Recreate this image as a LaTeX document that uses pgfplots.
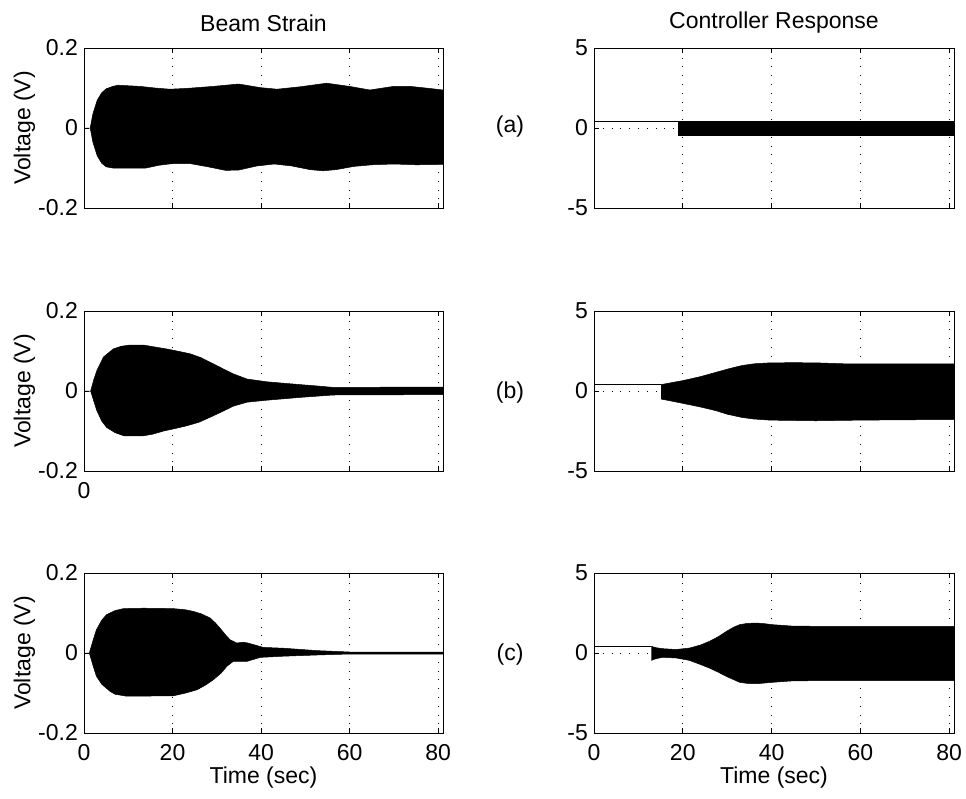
\documentclass[border=0pt]{standalone}
\usepackage{fontspec}
\setmainfont{Liberation Sans}
\usepackage{pgfplots}
\pgfplotsset{compat=1.18}
\newcommand{\bigf}{\fontsize{23}{27}\selectfont}
\pgfplotsset{
 base/.style={
  scale only axis, width=359pt, height=160pt,
  xmin=0, xmax=81.1,
  xtick={0,20,40,60,80},
  xticklabels={},
  grid=major,
  major grid style={black, line width=0.6pt, dash pattern=on 0.8pt off 8pt},
  axis line style={line width=0.9pt},
  every tick/.style={black, line width=0.8pt},
  major tick length=5pt,
  tick align=inside,
  tick label style={font=\bigf, inner sep=0pt},
  yticklabel style={xshift=-6pt},
  xticklabel style={yshift=-11pt},
  label style={font=\bigf},
  title style={font=\bigf, at={(axis description cs:0.5,1.1625)}, anchor=center, yshift=-7pt},
  xlabel style={at={(axis description cs:0.5,-0.281)}, anchor=center},
  ylabel style={at={(axis description cs:-0.166,0.5)}, anchor=center},
 },
 leftax/.style={base, ymin=-0.2, ymax=0.2, ytick={-0.2,0,0.2}, yticklabels={-0.2,0,0.2}, ylabel={Voltage (V)}},
 rightax/.style={base, width=360pt, ymin=-5, ymax=5, ytick={-5,0,5}, yticklabels={-5,0,5}},
 env/.style={fill=black, draw=black, line width=0.5pt},
 cst/.style={black, line width=0.7pt},
}
\begin{document}
\begin{tikzpicture}
\path[use as bounding box] (0,0) rectangle (966pt,-798pt);

% ---------- (a) beam strain
\begin{axis}[leftax, at={(84pt,-48pt)}, anchor=north west, title={Beam Strain}]
\addplot[env] coordinates {
(0,0) (1.4,0) (2,0.035) (3,0.07) (4,0.088) (5,0.098) (6.5,0.104) (7.7,0.107) (12.7,0.104) (16,0.1) (19.4,0.097) (23.2,0.099) (29.2,0.104) (34.9,0.11) (39.8,0.101) (43.6,0.097) (48.8,0.103) (54.8,0.112) (60,0.104) (64.6,0.095) (69.9,0.104) (73.7,0.104) (78,0.099) (81.1,0.095)
(81.1,-0.091) (75,-0.092) (70,-0.09) (65,-0.092) (61,-0.096) (57,-0.104) (54,-0.107) (51,-0.104) (47,-0.095) (43,-0.09) (39,-0.095) (35,-0.105) (32,-0.106) (28,-0.097) (24,-0.089) (20,-0.089) (17,-0.093) (14,-0.1) (6.5,-0.1) (5,-0.097) (4,-0.088) (3,-0.07) (2,-0.035) (1.4,0)
};
\end{axis}

% ---------- (a) controller
\begin{axis}[rightax, at={(594pt,-48pt)}, anchor=north west, title={Controller Response}]
\addplot[cst] coordinates {(0,0.42) (18.9,0.42)};
\addplot[env] coordinates {
(18.9,0.42) (81.1,0.42) (81.1,-0.44) (18.9,-0.44)
};
\end{axis}

% ---------- (b) beam strain
\begin{axis}[leftax, at={(84pt,-311pt)}, anchor=north west, xticklabels={0,{},{},{},{}}]
\addplot[env] coordinates {
(0,0) (1.5,0) (2.2,0.028) (2.9,0.051) (4.4,0.085) (6.6,0.105) (8.5,0.112) (10.4,0.115) (13.4,0.115) (16,0.11) (18.7,0.105) (21,0.1) (24,0.093) (26.5,0.083) (29.2,0.068) (31.5,0.055) (33.7,0.043) (36.8,0.030) (41.3,0.023) (48.8,0.016) (53.3,0.012) (56.3,0.009) (63.9,0.009) (71.4,0.010) (81.1,0.010)
(81.1,-0.009) (56.3,-0.010) (48.8,-0.016) (41.3,-0.023) (36.8,-0.028) (33.7,-0.038) (31.5,-0.05) (29.2,-0.062) (26,-0.078) (23.2,-0.087) (20.5,-0.094) (18,-0.1) (15.5,-0.108) (13.4,-0.112) (9,-0.112) (7,-0.104) (5.1,-0.091) (4,-0.075) (2.9,-0.049) (2.2,-0.025) (1.5,0)
};
\end{axis}

% ---------- (b) controller
\begin{axis}[rightax, at={(594pt,-311pt)}, anchor=north west]
\addplot[cst] coordinates {(0,0.40) (15.1,0.40)};
\addplot[env] coordinates {
(15.1,0.40) (20,0.65) (24,0.9) (27.5,1.17) (30.5,1.4) (33.3,1.59) (36,1.7) (39.6,1.76) (45,1.77) (50,1.76) (57.6,1.69) (81.1,1.69)
(81.1,-1.78) (60,-1.82) (50,-1.86) (39.6,-1.82) (36,-1.75) (33.3,-1.65) (30,-1.45) (27.5,-1.23) (24,-1.0) (20,-0.77) (15.1,-0.5)
};
\end{axis}

% ---------- (c) beam strain
\begin{axis}[leftax, at={(84pt,-573pt)}, anchor=north west, xticklabels={0,20,40,60,80}, xlabel={Time (sec)}]
\addplot[env] coordinates {
(0,0) (1.2,0) (2,0.03) (2.8,0.058) (4,0.082) (5.1,0.096) (7,0.106) (8.9,0.111) (13.4,0.112) (20.2,0.111) (23,0.108) (24.7,0.104) (26.5,0.098) (28.5,0.0875) (29.7,0.075) (30.7,0.0625) (32,0.045) (33,0.033) (34.5,0.025) (36,0.027) (37,0.025) (38.3,0.021) (40.5,0.014) (45,0.012) (52.6,0.006) (60,0.0025) (81.1,0.0025)
(81.1,-0.0025) (60,-0.0025) (52.6,-0.005) (45,-0.008) (39.8,-0.011) (38,-0.017) (36.8,-0.021) (33.7,-0.021) (32.3,-0.033) (31,-0.05) (29.2,-0.067) (27.5,-0.08) (25.5,-0.092) (23,-0.1) (20.2,-0.107) (9.6,-0.108) (7,-0.103) (5.9,-0.096) (4,-0.078) (2.8,-0.058) (2,-0.03) (1.2,0)
};
\end{axis}

% ---------- (c) controller
\begin{axis}[rightax, at={(594pt,-573pt)}, anchor=north west, xticklabels={0,20,40,60,80}, xlabel={Time (sec)}]
\addplot[cst] coordinates {(0,0.42) (12.9,0.42)};
\addplot[env] coordinates {
(12.9,0.42) (14,0.33) (15.5,0.27) (18.5,0.22) (21.5,0.31) (24,0.5) (26,0.73) (28,1.02) (29.8,1.35) (31.5,1.62) (32.8,1.77) (34.5,1.85) (36.6,1.875) (38.5,1.83) (40.3,1.77) (44.8,1.68) (50,1.67) (81.1,1.67)
(81.1,-1.73) (50,-1.73) (44.8,-1.74) (40.3,-1.83) (36.6,-1.92) (34.5,-1.9) (32.8,-1.83) (29.8,-1.46) (28,-1.2) (26,-0.94) (24,-0.72) (21.5,-0.46) (18.5,-0.31) (15.5,-0.27) (14,-0.35) (12.9,-0.46)
};
\end{axis}

\node[font=\bigf, anchor=center] at (510pt,-127pt) {(a)};
\node[font=\bigf, anchor=center] at (510pt,-393pt) {(b)};
\node[font=\bigf, anchor=center] at (510pt,-655pt) {(c)};
\end{tikzpicture}
\end{document}
